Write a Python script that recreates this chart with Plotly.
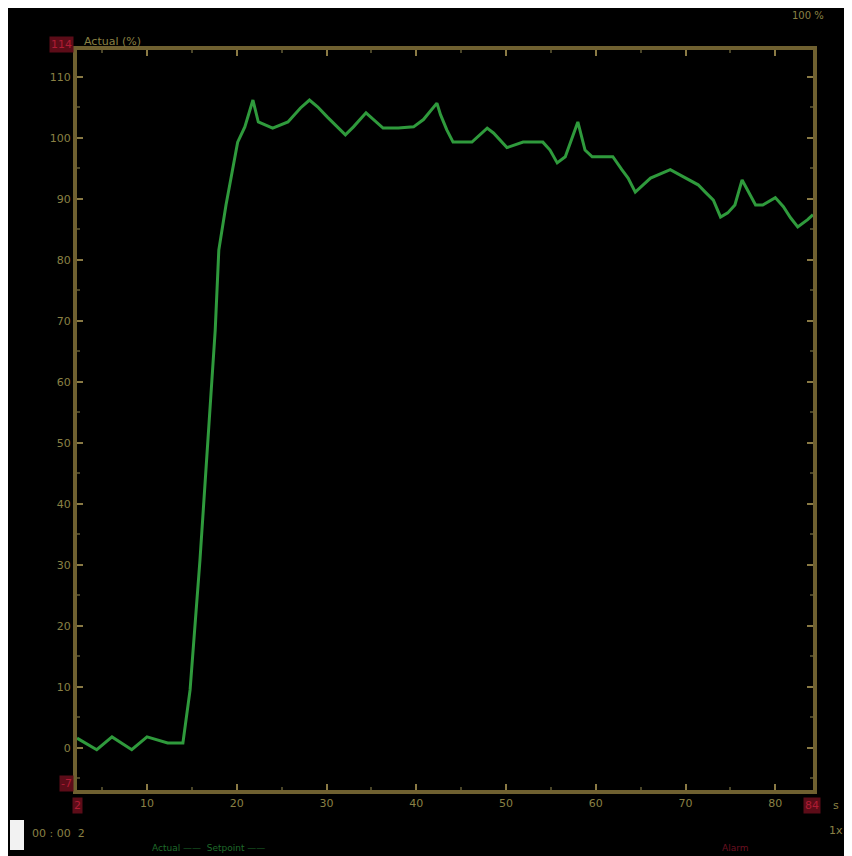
import plotly.graph_objects as go

# ---- data ----
time_s = [2.2, 4.4, 6.1, 8.3, 10.0, 12.3, 14.0, 14.8, 15.9, 16.8, 17.6, 18.0, 18.8,
          20.1, 20.9, 21.8, 22.4, 24.0, 25.7, 27.1, 28.1, 29.0, 30.1, 32.1, 33.0,
          34.4, 35.2, 36.3, 38.0, 39.7, 40.8, 42.3, 42.7, 43.4, 44.1, 46.2, 47.9,
          48.6, 50.1, 51.9, 54.1, 54.9, 55.7, 56.6, 58.0, 58.8, 59.6, 61.9, 62.9,
          63.6, 64.4, 66.1, 68.3, 70.0, 71.4, 72.2, 73.1, 73.9, 74.7, 75.5, 76.3,
          77.8, 78.6, 80.0, 80.9, 81.7, 82.5, 83.6, 84.2]
actual_pct = [1.6, -0.3, 1.8, -0.3, 1.8, 0.8, 0.8, 9.5, 30.8, 50.5, 68.5, 81.6, 89.0,
              99.3, 101.8, 106.2, 102.6, 101.6, 102.6, 104.9, 106.2, 105.1, 103.4, 100.5, 101.8,
              104.1, 103.0, 101.6, 101.6, 101.8, 103.0, 105.7, 103.8, 101.3, 99.3, 99.3, 101.6,
              100.8, 98.4, 99.3, 99.3, 98.0, 95.9, 96.9, 102.6, 98.0, 96.9, 96.9, 94.8,
              93.4, 91.1, 93.4, 94.8, 93.4, 92.3, 91.1, 89.8, 87.0, 87.7, 89.0, 93.1,
              89.0, 89.0, 90.2, 88.7, 86.9, 85.4, 86.6, 87.4]

x_ticks = [10, 20, 30, 40, 50, 60, 70, 80]
x_tick_labels = ["10", "20", "30", "40", "50", "60", "70", "80"]
y_ticks = [0, 10, 20, 30, 40, 50, 60, 70, 80, 90, 100, 110]
y_tick_labels = ["0", "10", "20", "30", "40", "50", "60", "70", "80", "90", "100", "110"]
x_range = [2.2, 84.2]
y_range = [-6.9, 114.4]

AXIS = "#6f6030"
TXT = "#8a8044"
RED_BG = "#5c0c18"
RED_TX = "#b01c34"
GREEN = "#2f9a3c"

fig = go.Figure()
fig.add_trace(go.Scatter(x=time_s, y=actual_pct, mode="lines",
                         line=dict(color=GREEN, width=3), showlegend=False))

axis_common = dict(showgrid=False, zeroline=False, showline=True, linecolor=AXIS,
                   linewidth=4, mirror="allticks", ticks="inside", ticklen=6,
                   tickwidth=2, tickcolor="#8a7a44",
                   tickfont=dict(family="DejaVu Sans", size=11, color=TXT))

fig.update_xaxes(range=x_range, tickvals=x_ticks, ticktext=x_tick_labels,
                 minor=dict(ticks="inside", ticklen=3, tickcolor="#4a4528", nticks=5),
                 **axis_common)
fig.update_yaxes(range=y_range, tickvals=y_ticks, ticktext=y_tick_labels,
                 minor=dict(ticks="inside", ticklen=3, tickcolor="#4a4528", nticks=5),
                 **axis_common)

# page offset of the figure (browser default body margin)
OFF = 8
L, R, T, B = 77, 813, 50, 790          # plot box in page pixels
W, H = 852 - OFF, 856 - OFF             # figure size
pw, ph = R - L, B - T

def px(xp):
    return (xp - L) / pw

def py(yp):
    return (B - yp) / ph

shapes = [
    dict(type="rect", xref="paper", yref="paper", x0=px(10), x1=px(24), y0=py(850), y1=py(820),
         fillcolor="#f2f2f2", line=dict(width=0)),
]

annotations = [
    dict(text="Actual (%)", xref="paper", yref="paper", x=px(82), y=py(50), xanchor="left",
         yanchor="bottom", showarrow=False, font=dict(family="DejaVu Sans", size=11, color=TXT)),
    dict(text="114", xref="paper", yref="paper", x=px(74), y=py(45), xanchor="right",
         yanchor="middle", showarrow=False, bgcolor=RED_BG,
         font=dict(family="DejaVu Sans", size=11, color=RED_TX)),
    dict(text="-7", xref="paper", yref="paper", x=px(74), y=py(783), xanchor="right",
         yanchor="middle", showarrow=False, bgcolor=RED_BG,
         font=dict(family="DejaVu Sans", size=11, color=RED_TX)),
    dict(text="2", xref="paper", yref="paper", x=px(77), y=py(797), xanchor="center",
         yanchor="top", showarrow=False, bgcolor=RED_BG,
         font=dict(family="DejaVu Sans", size=11, color=RED_TX)),
    dict(text="84", xref="paper", yref="paper", x=px(812), y=py(797), xanchor="center",
         yanchor="top", showarrow=False, bgcolor=RED_BG,
         font=dict(family="DejaVu Sans", size=11, color=RED_TX)),
    dict(text="s", xref="paper", yref="paper", x=px(836), y=py(797), xanchor="center",
         yanchor="top", showarrow=False, font=dict(family="DejaVu Sans", size=11, color=TXT)),
    dict(text="1x", xref="paper", yref="paper", x=px(836), y=py(822), xanchor="center",
         yanchor="top", showarrow=False, font=dict(family="DejaVu Sans", size=11, color=TXT)),
    dict(text="00 : 00  2", xref="paper", yref="paper", x=px(30), y=py(825), xanchor="left",
         yanchor="top", showarrow=False, font=dict(family="DejaVu Sans", size=11, color=TXT)),
    dict(text="Actual ——  Setpoint ——", xref="paper", yref="paper", x=px(150), y=py(841),
         xanchor="left", yanchor="top", showarrow=False,
         font=dict(family="DejaVu Sans", size=9, color="#1f6a2a")),
    dict(text="Alarm", xref="paper", yref="paper", x=px(720), y=py(841), xanchor="left",
         yanchor="top", showarrow=False, font=dict(family="DejaVu Sans", size=9, color="#6a1020")),
    dict(text="100 %", xref="paper", yref="paper", x=px(790), y=py(8), xanchor="left",
         yanchor="top", showarrow=False, font=dict(family="DejaVu Sans", size=10, color=TXT)),
]

fig.update_layout(width=W, height=H,
                  margin=dict(l=L - OFF, r=(W + OFF) - R, t=T - OFF, b=(H + OFF) - B),
                  paper_bgcolor="#000000", plot_bgcolor="#000000",
                  shapes=shapes, annotations=annotations, showlegend=False)

fig.write_html("out.html")
